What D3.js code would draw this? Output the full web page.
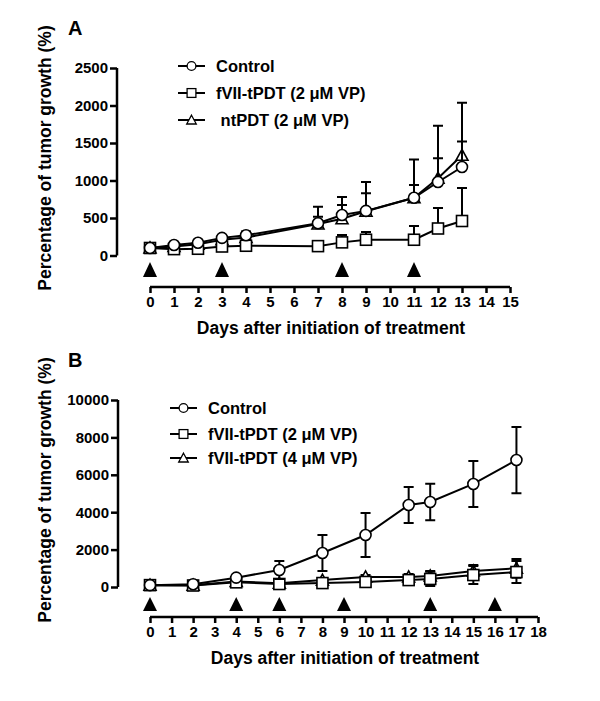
<!DOCTYPE html>
<html>
<head>
<meta charset="utf-8">
<script src="https://cdn.jsdelivr.net/npm/d3@7"></script>
<style>
  body { margin: 0; background: #fff; }
  text { font-family: "Liberation Sans", Arial, sans-serif; font-weight: bold; }
</style>
</head>
<body>
<div id="chart"></div>
<script>
/* Panel A data */
var daysA = [0, 1, 2, 3, 4, 7, 8, 9, 11, 12, 13];
var controlA = [100, 140, 170, 235, 270, 430, 540, 595, 770, 980, 1180];
var controlAErr = [0, 20, 25, 40, 50, 86, 240, 385, 510, 750, 340];
var fviiA = [100, 85, 90, 120, 130, 125, 175, 210, 210, 360, 460];
var fviiAErr = [0, 10, 10, 20, 20, 20, 100, 105, 185, 275, 440];
var ntpdtA = [100, 120, 150, 210, 240, 420, 490, 590, 770, 1030, 1336];
var ntpdtAErr = [0, 20, 30, 50, 60, 230, 185, 240, 170, 266, 700];
var treatA = [0, 3, 8, 11];
var xTicksA = d3.range(0, 16);
var yTicksA = [0, 500, 1000, 1500, 2000, 2500];
var legendA = ["Control", "fVII-tPDT (2 \u03BCM VP)", " ntPDT (2 \u03BCM VP)"];

/* Panel B data */
var daysB = [0, 2, 4, 6, 8, 10, 12, 13, 15, 17];
var controlB = [100, 150, 500, 910, 1820, 2780, 4385, 4545, 5510, 6790];
var controlBErr = [0, 50, 80, 480, 960, 1180, 960, 970, 1230, 1770];
var fvii2B = [100, 80, 250, 160, 210, 270, 370, 430, 640, 800];
var fvii2BErr = [0, 20, 60, 40, 60, 80, 120, 380, 480, 590];
var fvii4B = [100, 100, 300, 200, 370, 540, 540, 590, 860, 1000];
var fvii4BErr = [0, 30, 80, 50, 80, 100, 150, 270, 320, 500];
var treatB = [0, 4, 6, 9, 13, 16];
var xTicksB = d3.range(0, 19);
var yTicksB = [0, 2000, 4000, 6000, 8000, 10000];
var legendB = ["Control", "fVII-tPDT (2 \u03BCM VP)", "fVII-tPDT (4 \u03BCM VP)"];

var svg = d3.select("#chart").append("svg").attr("width", 600).attr("height", 701);

function symbolFor(g, kind) {
	if (kind == "circle")
		g.append("circle").attr("r", 5.5);
	else if (kind == "square")
		g.append("rect").attr("x", -5.5).attr("y", -5.5).attr("width", 11).attr("height", 11);
	else
		g.append("path").attr("d", "M0,-6L6,5L-6,5Z");
	g.selectAll("*").attr("fill", "#fff").attr("stroke", "#000").attr("stroke-width", 1.6);
}

function drawPanel(p) {
	var x = d3.scaleLinear().domain([0, p.xMax]).range([150, p.xRight]);
	var y = d3.scaleLinear().domain([0, p.yMax]).range([p.yBottom, p.yTop]);
	var g = svg.append("g");

	// panel letter
	g.append("text").attr("x", 68).attr("y", p.yTop - 33).attr("font-size", 20).text(p.letter);

	// y axis
	var yAxis = g.append("g").attr("transform", "translate(" + p.yAxisX + ",0)")
		.call(d3.axisLeft(y).tickValues(p.yTicks).tickSize(7).tickPadding(2).tickFormat(d3.format("d")));
	yAxis.select(".domain").attr("d", "M0," + y(0) + "V" + y(p.yMax)).attr("stroke-width", 2.5);
	yAxis.selectAll(".tick line").attr("stroke-width", 2.5);
	yAxis.selectAll(".tick text").attr("font-size", 15).attr("fill", "#000");

	// x axis
	var xAxis = g.append("g").attr("transform", "translate(0," + p.xAxisY + ")")
		.call(d3.axisBottom(x).tickValues(p.xTicks).tickSize(6).tickPadding(3));
	xAxis.select(".domain").attr("d", "M" + x(0) + ",0H" + x(p.xMax)).attr("stroke-width", 2.5);
	xAxis.selectAll(".tick line").attr("stroke-width", 2.5);
	xAxis.selectAll(".tick text").attr("font-size", 15).attr("fill", "#000");

	// axis titles
	g.append("text").attr("x", (x(0) + x(p.xMax)) / 2 + 1).attr("y", p.xAxisY + 47)
		.attr("text-anchor", "middle").attr("font-size", 17.5).text("Days after initiation of treatment");
	g.append("text").attr("transform", "translate(51," + p.yTitleMid + ") rotate(-90)")
		.attr("text-anchor", "middle").attr("font-size", 17.5).text("Percentage of tumor growth (%)");

	// treatment arrows
	g.selectAll(".arrow").data(p.treat).enter().append("path")
		.attr("class", "arrow")
		.attr("d", function(d) { return "M" + x(d) + "," + p.arrowTop + "l7," + p.arrowH + "h-14Z"; })
		.attr("fill", "#000");

	// series: draw in reverse so control sits on top
	p.series.slice().reverse().forEach(function(s) {
		var pts = p.days.map(function(d, i) { return { x: d, y: s.values[i], e: s.err[i] }; });
		var bars = g.append("g");
		pts.forEach(function(d) {
			if (d.e <= 0) return;
			var top = y(d.y + d.e), bot = p.bothSides ? y(Math.max(d.y - d.e, 0)) : y(d.y);
			bars.append("path")
				.attr("d", "M" + x(d.x) + "," + bot + "V" + top +
					"M" + (x(d.x) - 5) + "," + top + "h10" +
					(p.bothSides ? "M" + (x(d.x) - 5) + "," + bot + "h10" : ""))
				.attr("stroke", "#000").attr("stroke-width", 2).attr("fill", "none");
		});
		g.append("path").datum(pts)
			.attr("d", d3.line().x(function(d) { return x(d.x); }).y(function(d) { return y(d.y); }))
			.attr("fill", "none").attr("stroke", "#000").attr("stroke-width", 2);
		pts.forEach(function(d) {
			var m = g.append("g").attr("transform", "translate(" + x(d.x) + "," + y(d.y) + ")");
			symbolFor(m, s.kind);
		});
	});

	// legend
	p.series.forEach(function(s, i) {
		var ly = p.legendY[i];
		g.append("line").attr("x1", p.legendX).attr("x2", p.legendX + 27)
			.attr("y1", ly).attr("y2", ly).attr("stroke", "#000").attr("stroke-width", 2);
		var m = g.append("g").attr("transform", "translate(" + (p.legendX + 13.5) + "," + ly + ")");
		symbolFor(m, s.kind);
		m.selectAll("*").attr("transform", "scale(0.8)");
		g.append("text").attr("x", p.legendX + 38).attr("y", ly + 6).attr("font-size", 16.5)
			.attr("xml:space", "preserve").style("white-space", "pre").text(p.legend[i]);
	});
}

drawPanel({
	letter: "A", xMax: 15, xRight: 510, yMax: 2500, yTop: 68, yBottom: 255.5,
	yAxisX: 117, xAxisY: 287, yTitleMid: 158, arrowTop: 262, arrowH: 15,
	xTicks: xTicksA, yTicks: yTicksA, treat: treatA, days: daysA, bothSides: false,
	legendX: 178, legendY: [66, 93, 120], legend: legendA,
	series: [
		{ kind: "circle", values: controlA, err: controlAErr },
		{ kind: "square", values: fviiA, err: fviiAErr },
		{ kind: "triangle", values: ntpdtA, err: ntpdtAErr }
	]
});

drawPanel({
	letter: "B", xMax: 18, xRight: 538, yMax: 10000, yTop: 400, yBottom: 587,
	yAxisX: 118, xAxisY: 617, yTitleMid: 490, arrowTop: 597, arrowH: 14,
	xTicks: xTicksB, yTicks: yTicksB, treat: treatB, days: daysB, bothSides: true,
	legendX: 170, legendY: [408, 434, 458], legend: legendB,
	series: [
		{ kind: "circle", values: controlB, err: controlBErr },
		{ kind: "square", values: fvii2B, err: fvii2BErr },
		{ kind: "triangle", values: fvii4B, err: fvii4BErr }
	]
});
</script>
</body>
</html>
